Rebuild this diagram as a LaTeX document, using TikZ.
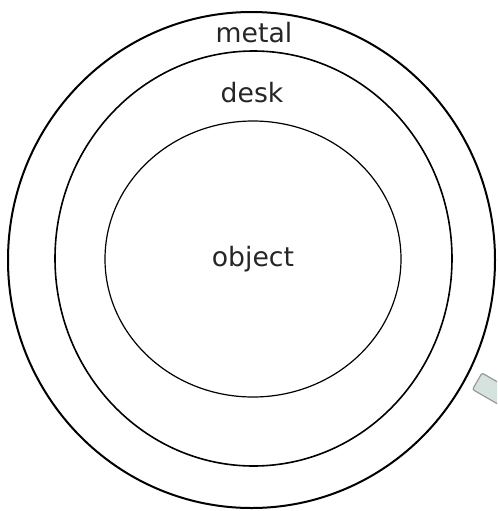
\documentclass[tikz,border=0pt]{standalone}
\usepackage{fontspec}
\setmainfont{DejaVu Sans}
\usepackage{tikz}
\usetikzlibrary{shapes.geometric,positioning}

\begin{document}
\begin{tikzpicture}[x=0.75pt,y=-0.75pt,
        ring/.style = {draw = black, ellipse, inner sep = 0pt},
        word/.style = {font = \fontsize{20}{24}\selectfont, text = black!85}]
        \useasboundingbox (0,0) rectangle (497,511);
        % nested rings
        \node[ring, line width = 1.5pt, minimum width = 365.25pt,
            minimum height = 372pt] (metal) at (251.5,260) {};
        \node[ring, line width = 1.2pt, minimum width = 297.75pt,
            minimum height = 311.25pt] (desk) at (253.5,258.5) {};
        \node[ring, line width = 0.9pt, minimum width = 222pt,
            minimum height = 207pt] (object) at (253,259) {};
        % labels
        \node[word] (metal-lbl) at (254,33) {metal};
        \node[word] (desk-lbl) at (252,93) {desk};
        \node[word] (object-lbl) at (object.center) {object};
        % cut-off tab at the right edge
        \begin{scope}
            \clip (0,0) rectangle (497,511);
            \draw[fill = {rgb,255:red,214;green,226;blue,222}, draw = black!40,
                line width = 0.9pt, rounded corners = 1.5pt, rotate around = {-30:(482,373)}]
                (482,373) rectangle (525,392);
        \end{scope}
\end{tikzpicture}
\end{document}
